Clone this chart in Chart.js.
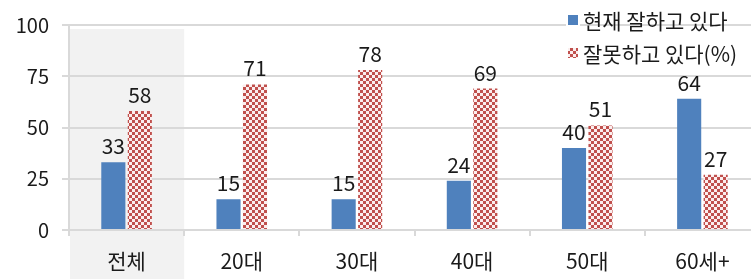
<!DOCTYPE html>
<html>
<head>
<meta charset="utf-8">
<script src="https://cdn.jsdelivr.net/npm/chart.js@4"></script>
<style>
  html, body { margin: 0; padding: 0; background: #fff; overflow: hidden; }
  #wrap { width: 751px; height: 279px; overflow: hidden; }
</style>
</head>
<body>
<div id="wrap"><canvas id="chart" width="760" height="279"></canvas></div>
<script>
const categories = ['전체', '20대', '30대', '40대', '50대', '60세+'];
const doingWell = [33, 15, 15, 24, 40, 64];
const doingBadly = [58, 71, 78, 69, 51, 27];
const seriesNames = ['현재 잘하고 있다', '잘못하고 있다(%)'];
const yTicks = [0, 25, 50, 75, 100];

const FONT = '"Noto Sans CJK KR", "Noto Sans", sans-serif';
const BLUE = '#4f81bd';
const RED = '#c0504d';

// small red/white checker tile for the second series
function makeChecker() {
  const c = document.createElement('canvas');
  c.width = 6;
  c.height = 6;
  const g = c.getContext('2d');
  g.fillStyle = '#fbeeee';
  g.fillRect(0, 0, 6, 6);
  g.fillStyle = RED;
  g.fillRect(0, 0, 3, 3);
  g.fillRect(3, 3, 3, 3);
  return g.createPattern(c, 'repeat');
}
const checker = makeChecker();

// grey band behind the first category (전체)
const highlightBand = {
  id: 'highlightBand',
  beforeDraw(chart) {
    const x = chart.scales.x;
    const w = x.width / x.ticks.length;
    const left = x.getPixelForValue(0) - w / 2;
    const ctx = chart.ctx;
    ctx.save();
    ctx.fillStyle = '#f2f2f2';
    ctx.fillRect(left + 1, chart.chartArea.top + 4, w - 1, chart.height);
    ctx.restore();
  },
};

// value labels above each bar
const valueLabels = {
  id: 'valueLabels',
  afterDatasetsDraw(chart) {
    const ctx = chart.ctx;
    ctx.save();
    ctx.font = '21px ' + FONT;
    ctx.fillStyle = '#1a1a1a';
    ctx.textAlign = 'center';
    ctx.textBaseline = 'alphabetic';
    chart.data.datasets.forEach((ds, i) => {
      chart.getDatasetMeta(i).data.forEach((bar, j) => {
        ctx.fillText(String(ds.data[j]), bar.x, bar.y - 8);
      });
    });
    ctx.restore();
  },
};

// legend drawn inside the plot, top right
const cornerLegend = {
  id: 'cornerLegend',
  afterDraw(chart) {
    const ctx = chart.ctx;
    ctx.save();
    ctx.font = '21px ' + FONT;
    ctx.textBaseline = 'middle';
    ctx.textAlign = 'left';
    const rows = [20, 53];
    chart.data.datasets.forEach((ds, i) => {
      const y = rows[i];
      ctx.fillStyle = '#fff';
      ctx.fillRect(566, y - 7, 14, 14);
      ctx.fillStyle = ds.backgroundColor;
      ctx.fillRect(568, y - 5, 10, 10);
      ctx.fillStyle = '#1a1a1a';
      ctx.fillText(ds.label, 583, y + 1);
    });
    ctx.restore();
  },
};

new Chart(document.getElementById('chart'), {
  type: 'bar',
  data: {
    labels: categories,
    datasets: [
      { label: seriesNames[0], data: doingWell, backgroundColor: BLUE },
      { label: seriesNames[1], data: doingBadly, backgroundColor: checker },
    ],
  },
  options: {
    responsive: false,
    animation: false,
    devicePixelRatio: 1,
    layout: { padding: { top: 19, left: 0, right: 0, bottom: 0 } },
    datasets: { bar: { categoryPercentage: 0.46, barPercentage: 0.91 } },
    plugins: { legend: { display: false }, tooltip: { enabled: false } },
    scales: {
      y: {
        min: 0,
        max: 100,
        afterFit(scale) { scale.width = 69; },
        afterBuildTicks(scale) { scale.ticks = yTicks.map((v) => ({ value: v })); },
        grid: { color: '#d9d9d9', lineWidth: 2, tickLength: 7, drawTicks: true },
        border: { display: true, color: '#d9d9d9', width: 2 },
        ticks: { color: '#1a1a1a', font: { family: FONT, size: 20 }, padding: 13 },
      },
      x: {
        afterFit(scale) { scale.height = 49; },
        grid: { offset: true, drawOnChartArea: false, color: '#d9d9d9', lineWidth: 2, tickLength: 6 },
        border: { display: true, color: '#d9d9d9', width: 2 },
        ticks: { color: '#1a1a1a', font: { family: FONT, size: 21 }, padding: 12 },
      },
    },
  },
  plugins: [highlightBand, valueLabels, cornerLegend],
});
</script>
</body>
</html>
